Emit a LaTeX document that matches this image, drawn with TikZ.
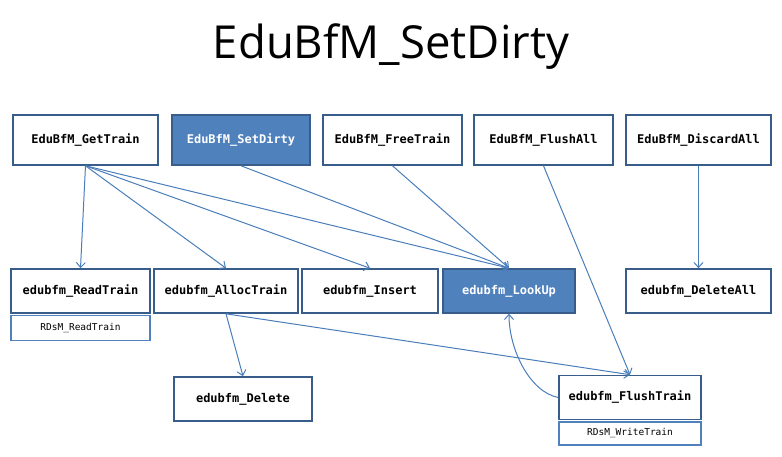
\documentclass[tikz,border=0pt]{standalone}
\usepackage{fontspec}
\usepackage{tikz}
\usetikzlibrary{positioning,arrows.meta}
\setmonofont{DejaVu Sans Mono}
\newfontfamily\titlefont{Open Sans}
\definecolor{boxline}{HTML}{385D8A}
\definecolor{boxfill}{HTML}{4F81BD}
\definecolor{arrline}{HTML}{4A7EBB}

\begin{document}
\begin{tikzpicture}[x=1pt,y=-1pt,
		func/.style={draw=boxline,line width=1.6pt,fill=white,minimum height=44pt,inner sep=0pt,font=\ttfamily\bfseries\fontsize{12}{14}\selectfont},
		top/.style={func,minimum height=50pt},
		hot/.style={fill=boxfill,text=white},
		sub/.style={draw=boxfill,line width=1.2pt,minimum height=25pt,inner sep=0pt,font=\ttfamily\fontsize{9.5}{11}\selectfont},
		call/.style={draw=arrline,line width=1pt,-{Straight Barb[length=5pt,width=9pt]}}]
		\useasboundingbox (0,0) rectangle (782,457);
		\node[font=\titlefont\fontsize{45.5}{52}\selectfont]	(title)	at (391,47)	{EduBfM\_SetDirty};

		\node[top,minimum width=145pt]		(gt)	at (85.5,140)	{EduBfM\_GetTrain};
		\node[top,hot,minimum width=138pt]	(sd)	at (241,140)	{EduBfM\_SetDirty};
		\node[top,minimum width=139pt]		(ft)	at (392.5,140)	{EduBfM\_FreeTrain};
		\node[top,minimum width=139pt]		(fa)	at (543.5,140)	{EduBfM\_FlushAll};
		\node[top,minimum width=145pt]		(da)	at (698.5,140)	{EduBfM\_DiscardAll};

		\node[func,minimum width=139pt]		(rt)	at (80.5,291)	{edubfm\_ReadTrain};
		\node[func,minimum width=144pt]		(at)	at (226,291)	{edubfm\_AllocTrain};
		\node[func,minimum width=136pt]		(in)	at (370,291)	{edubfm\_Insert};
		\node[func,hot,minimum width=132pt]	(lu)	at (509,291)	{edubfm\_LookUp};
		\node[func,minimum width=145pt]		(dl)	at (698.5,291)	{edubfm\_DeleteAll};
		\node[sub,minimum width=139pt,below=1pt of rt]	(rr)	{RDsM\_ReadTrain};

		\node[func,minimum width=138pt]		(de)	at (243,399)	{edubfm\_Delete};
		\node[func,minimum width=142pt]		(fl)	at (630,397.5)	{edubfm\_FlushTrain};
		\node[sub,minimum width=142pt,minimum height=23pt,below=1pt of fl]	(wt)	{RDsM\_WriteTrain};

		\draw[call] (gt.south) -- (rt.north);
		\draw[call] (gt.south) -- (at.north);
		\draw[call] (gt.south) -- (in.north);
		\draw[call] (gt.south) -- (lu.north);
		\draw[call] (sd.south) -- (lu.north);
		\draw[call] (ft.south) -- (lu.north);
		\draw[call] (fa.south) -- (fl.north);
		\draw[call] (da.south) -- (dl.north);
		\draw[call] (at.south) -- (de.north);
		\draw[call] (at.south) -- (fl.north);
		\draw[call] (fl.west) .. controls (530,392) and (509,350) .. (lu.south);
	\end{tikzpicture}
\end{document}
